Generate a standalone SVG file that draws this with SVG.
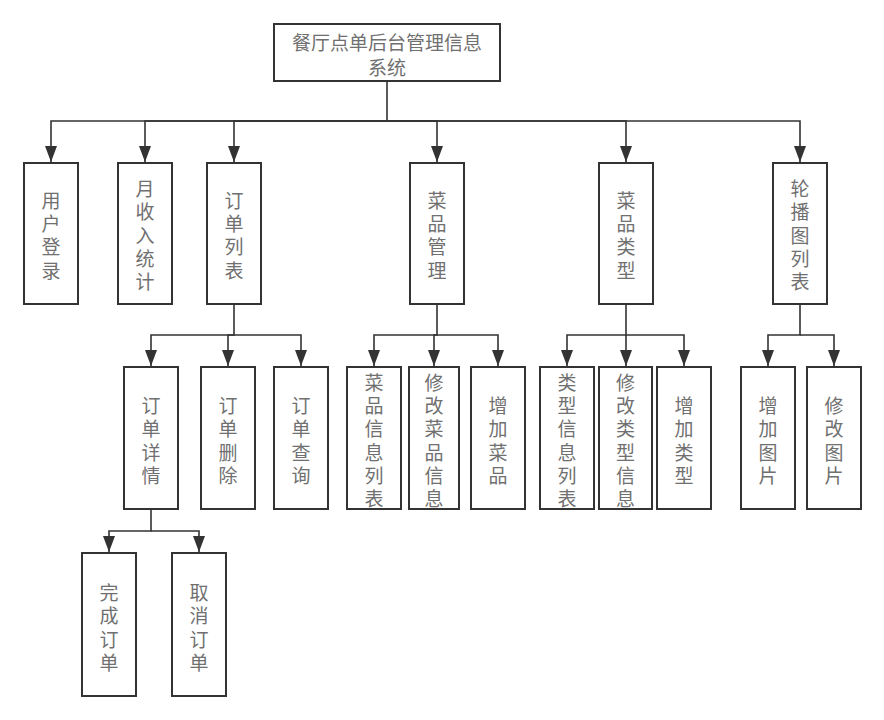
<svg xmlns="http://www.w3.org/2000/svg" width="884" height="720" viewBox="0 0 884 720">
<style>
.box{fill:#fff;stroke:#333;stroke-width:2}
.t{font-family:"Noto Sans CJK SC","Noto Sans",sans-serif;font-size:19px;fill:#707070;text-anchor:middle}
.v{writing-mode:vertical-rl;letter-spacing:4.3px}
.c{fill:none;stroke:#333;stroke-width:1.6;marker-end:url(#ah)}
</style>
<defs>
<marker id="ah" viewBox="0 0 16 12" markerWidth="16" markerHeight="12" refX="16" refY="6" orient="auto" markerUnits="userSpaceOnUse">
<path d="M0,0 L16,6 L0,12 z" fill="#333"/>
</marker>
<clipPath id="cp1"><rect x="348" y="368" width="52" height="140"/></clipPath>
<clipPath id="cp2"><rect x="410" y="368" width="48" height="140"/></clipPath>
<clipPath id="cp3"><rect x="541" y="368" width="52" height="140"/></clipPath>
<clipPath id="cp4"><rect x="600" y="368" width="51" height="140"/></clipPath>
</defs>
<rect width="884" height="720" fill="#fff"/>
<g id="connectors">
<path class="c" d="M387,81 V121 H51 V162"/>
<path class="c" d="M387,121 H145 V162"/>
<path class="c" d="M387,121 H234 V162"/>
<path class="c" d="M387,121 H437 V162"/>
<path class="c" d="M387,121 H626 V162"/>
<path class="c" d="M387,121 H800 V162"/>
<path class="c" d="M234,305 V335 H151 V366"/>
<path class="c" d="M234,335 H228 V366"/>
<path class="c" d="M234,335 H301 V366"/>
<path class="c" d="M437,305 V335 H374 V366"/>
<path class="c" d="M437,335 H434 V366"/>
<path class="c" d="M437,335 H498 V366"/>
<path class="c" d="M626,305 V335 H567 V366"/>
<path class="c" d="M626,335 V366"/>
<path class="c" d="M626,335 H684 V366"/>
<path class="c" d="M800,305 V335 H768 V366"/>
<path class="c" d="M800,335 H834 V366"/>
<path class="c" d="M151,509 V531 H109 V552"/>
<path class="c" d="M151,531 H199 V552"/>
</g>
<g id="root">
<rect class="box" x="274" y="24" width="226" height="57"/>
<text class="t" x="387" y="50">餐厅点单后台管理信息</text>
<text class="t" x="387" y="75">系统</text>
</g>
<g id="n-yhdl">
<rect class="box" x="24" y="163" width="54" height="141"/>
<text class="t v" x="51" y="237.5">用户登录</text>
</g>
<g id="n-ysrtj">
<rect class="box" x="118" y="163" width="54" height="141"/>
<text class="t v" x="145" y="237.5">月收入统计</text>
</g>
<g id="n-ddlb">
<rect class="box" x="207" y="163" width="54" height="141"/>
<text class="t v" x="234" y="237.5">订单列表</text>
</g>
<g id="n-cpgl">
<rect class="box" x="410" y="163" width="54" height="141"/>
<text class="t v" x="437" y="237.5">菜品管理</text>
</g>
<g id="n-cplx">
<rect class="box" x="599" y="163" width="54" height="141"/>
<text class="t v" x="626" y="237.5">菜品类型</text>
</g>
<g id="n-lbtlb">
<rect class="box" x="773" y="163" width="54" height="141"/>
<text class="t v" x="800" y="237.5">轮播图列表</text>
</g>
<g id="n-ddxq">
<rect class="box" x="124" y="367" width="54" height="142"/>
<text class="t v" x="151" y="443">订单详情</text>
</g>
<g id="n-ddsc">
<rect class="box" x="201" y="367" width="54" height="142"/>
<text class="t v" x="228" y="443">订单删除</text>
</g>
<g id="n-ddcx">
<rect class="box" x="274" y="367" width="54" height="142"/>
<text class="t v" x="301" y="443">订单查询</text>
</g>
<g id="n-cpxxlb">
<rect class="box" x="347" y="367" width="54" height="142"/>
<text class="t v" x="374" y="443" clip-path="url(#cp1)">菜品信息列表</text>
</g>
<g id="n-xgcpxx">
<rect class="box" x="409" y="367" width="50" height="142"/>
<text class="t v" x="434" y="443" clip-path="url(#cp2)">修改菜品信息</text>
</g>
<g id="n-zjcp">
<rect class="box" x="471" y="367" width="54" height="142"/>
<text class="t v" x="498" y="443">增加菜品</text>
</g>
<g id="n-lxxxlb">
<rect class="box" x="540" y="367" width="54" height="142"/>
<text class="t v" x="567" y="443" clip-path="url(#cp3)">类型信息列表</text>
</g>
<g id="n-xglxxx">
<rect class="box" x="599" y="367" width="53" height="142"/>
<text class="t v" x="625.5" y="443" clip-path="url(#cp4)">修改类型信息</text>
</g>
<g id="n-zjlx">
<rect class="box" x="657" y="367" width="54" height="142"/>
<text class="t v" x="684" y="443">增加类型</text>
</g>
<g id="n-zjtp">
<rect class="box" x="741" y="367" width="54" height="142"/>
<text class="t v" x="768" y="443">增加图片</text>
</g>
<g id="n-xgtp">
<rect class="box" x="807" y="367" width="54" height="142"/>
<text class="t v" x="834" y="443">修改图片</text>
</g>
<g id="n-wcdd">
<rect class="box" x="82" y="553" width="54" height="143"/>
<text class="t v" x="109" y="630">完成订单</text>
</g>
<g id="n-qxdd">
<rect class="box" x="172" y="553" width="54" height="143"/>
<text class="t v" x="199" y="630">取消订单</text>
</g>
</svg>
